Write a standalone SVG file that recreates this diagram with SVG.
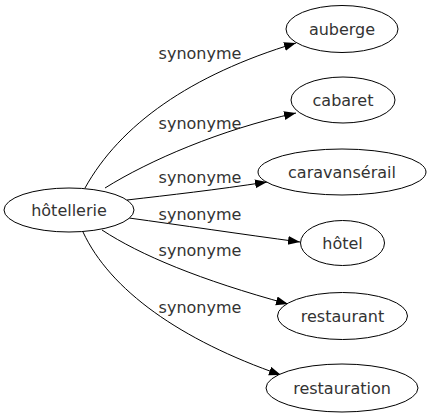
<svg xmlns="http://www.w3.org/2000/svg" width="431" height="419" viewBox="0 0 431 419">
<defs>
<style>
.node ellipse{fill:#fff;stroke:#000;stroke-width:1}
.node text{font-family:"DejaVu Sans",sans-serif;font-size:16px;fill:#333;text-anchor:middle}
.edge path{fill:none;stroke:#000;stroke-width:1}
.lbl{font-family:"DejaVu Sans",sans-serif;font-size:16px;fill:#333;text-anchor:middle}
</style>
<marker id="arr" markerUnits="userSpaceOnUse" markerWidth="13" markerHeight="10" refX="12" refY="4.5" orient="auto">
<path d="M0,0 L12,4.5 L0,9 z" fill="#000"/>
</marker>
</defs>
<rect width="431" height="419" fill="#fff"/>
<g id="connectors" class="edge">
<path d="M85,188 C120,125 190,75 296,43" marker-end="url(#arr)"/>
<path d="M105,188 C150,160 220,130 296,113" marker-end="url(#arr)"/>
<path d="M127,200 C170,195 215,190 267,182" marker-end="url(#arr)"/>
<path d="M129,218 C180,225 240,234 300,242" marker-end="url(#arr)"/>
<path d="M102,230 C140,255 200,280 288,304" marker-end="url(#arr)"/>
<path d="M83,232 C110,290 180,340 281,375" marker-end="url(#arr)"/>
<text class="lbl" x="200" y="59">synonyme</text>
<text class="lbl" x="200" y="129">synonyme</text>
<text class="lbl" x="200" y="183">synonyme</text>
<text class="lbl" x="200" y="220">synonyme</text>
<text class="lbl" x="200" y="256">synonyme</text>
<text class="lbl" x="200" y="313">synonyme</text>
</g>
<g id="hotellerie" class="node"><ellipse cx="69" cy="210" rx="65" ry="22"/><text x="69" y="215.5">hôtellerie</text></g>
<g id="auberge" class="node"><ellipse cx="342" cy="29" rx="56" ry="23.5"/><text x="342" y="34.5">auberge</text></g>
<g id="cabaret" class="node"><ellipse cx="343" cy="100" rx="52" ry="23"/><text x="343" y="105.5">cabaret</text></g>
<g id="caravanserail" class="node"><ellipse cx="342" cy="172" rx="84" ry="23"/><text x="342" y="177.5">caravansérail</text></g>
<g id="hotel" class="node"><ellipse cx="342.5" cy="243" rx="42" ry="22.5"/><text x="342.5" y="248.5">hôtel</text></g>
<g id="restaurant" class="node"><ellipse cx="342.5" cy="316" rx="65" ry="23.5"/><text x="342.5" y="321.5">restaurant</text></g>
<g id="restauration" class="node"><ellipse cx="342" cy="388" rx="76" ry="24"/><text x="342" y="393.5">restauration</text></g>
</svg>
